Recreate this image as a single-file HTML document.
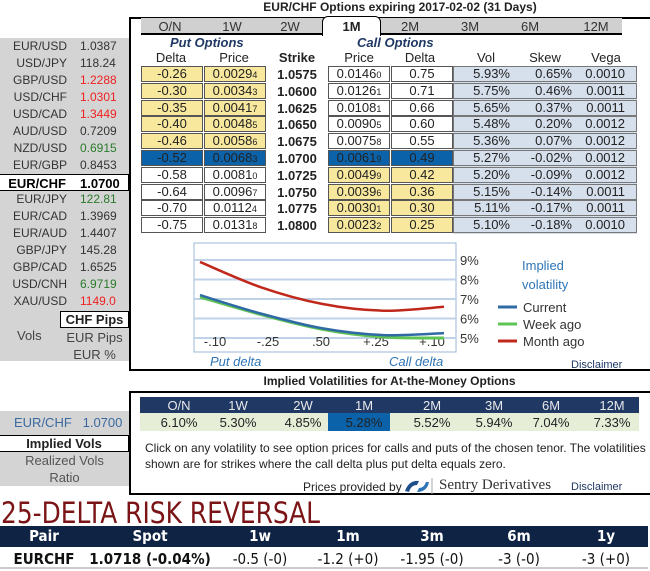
<!DOCTYPE html>
<html><head><meta charset="utf-8">
<style>
*{margin:0;padding:0;box-sizing:border-box}
body{width:650px;height:571px;overflow:hidden;background:#fff;font-family:"Liberation Sans",Arial,sans-serif;font-size:13px;color:#222;position:relative}
.a{position:absolute;white-space:nowrap}
.c{text-align:center}
.cell{position:absolute;height:16px;border:1px solid #555;text-align:center;line-height:14px;font-size:13px}
small{font-size:9px}
.li{position:absolute;left:0;width:129px;height:17px;line-height:17px;font-size:12px;color:#333}
.li .n{position:absolute;right:62px;text-align:right}
.li .v{position:absolute;left:80px}
</style></head><body>
<div class="a c" style="left:150px;width:500px;top:0;font-weight:bold;font-size:12px;line-height:14px">EUR/CHF Options expiring 2017-02-02 (31 Days)</div>

<div class="a" style="left:0;top:38px;width:129px;height:323px;background:#d4d4d4"></div>
<div id="pairs"></div>
<div class="a c" style="left:60px;top:311px;width:69px;height:17px;background:#fff;border:1px solid #000;font-weight:bold;line-height:15px">CHF Pips</div>
<div class="a" style="left:17px;top:327px;color:#444;line-height:17px">Vols</div>
<div class="a c" style="left:60px;top:329px;width:69px;color:#444;line-height:17px">EUR Pips</div>
<div class="a c" style="left:60px;top:346px;width:69px;color:#444;line-height:17px">EUR %</div>

<div class="a" style="left:129px;top:17px;width:522px;height:354px;border:2px solid #000;border-right:none"></div>
<div class="a" style="left:141px;top:18px;width:481px;height:17px;background:#d0d0d0;border-bottom:2px solid #000"></div>
<div class="a c" style="left:322px;top:16px;width:59px;height:20px;background:#fff;border:1.5px solid #000;border-bottom:none;border-radius:6px 6px 0 0;font-weight:bold;line-height:19px;font-size:13px">1M</div>
<div id="tabs"></div>

<div class="a" style="left:170px;top:36px;font-weight:bold;font-style:italic;color:#1f3864;line-height:14px">Put Options</div>
<div class="a" style="left:357px;top:36px;font-weight:bold;font-style:italic;color:#1f3864;line-height:14px">Call Options</div>
<div id="colheads"></div>
<div class="a" style="left:453px;top:66px;width:184px;height:168px;background:#d6dfec"></div>
<div id="rows"></div>

<svg class="a" style="left:0;top:0" width="650" height="380" id="chart"></svg>

<div class="a c" style="left:129px;width:521px;top:374px;font-weight:bold;font-size:12px;line-height:14px">Implied Volatilities for At-the-Money Options</div>
<div class="a" style="left:129px;top:391px;width:522px;height:104px;border:2px solid #000;border-right:none"></div>
<div class="a" style="left:140px;top:397px;width:499px;height:16px;background:#1f3864"></div>
<div class="a" style="left:140px;top:413px;width:499px;height:18px;background:#e6eed8"></div>
<div class="a" style="left:328px;top:413px;width:62px;height:18px;background:#0b62a8"></div>
<div id="atm"></div>
<div class="a" style="left:0;top:411px;width:129px;height:24px;background:#d4d4d4;line-height:24px;color:#3a6aa0;padding-left:14px">EUR/CHF&nbsp;&nbsp;&nbsp;1.0700</div>
<div class="a c" style="left:0;top:435px;width:129px;height:17px;border:1px solid #000;border-left:none;font-weight:bold;line-height:15px">Implied Vols</div>
<div class="a" style="left:0;top:452px;width:129px;height:34px;background:#d4d4d4"></div>
<div class="a c" style="left:0;top:452px;width:129px;line-height:17px;color:#555">Realized Vols</div>
<div class="a c" style="left:0;top:469px;width:129px;line-height:17px;color:#555">Ratio</div>
<div class="a" style="left:145px;top:440px;font-size:12px;line-height:16px">Click on any volatility to see option prices for calls and puts of the chosen tenor. The volatilities<br>shown are for strikes where the call delta plus put delta equals zero.</div>
<div class="a" style="left:303px;top:479px;font-size:12px;line-height:16px">Prices provided by</div>
<svg class="a" style="left:403px;top:477px" width="30" height="18"><path d="M2 14 Q6 3 16 4 L14 8 Q8 8 6 15Z" fill="#1f4f8a"/><path d="M26 5 Q24 15 14 15 L16 11 Q21 11 23 5Z" fill="#2f75b6"/><line x1="29" y1="1" x2="29" y2="17" stroke="#aaa"/></svg>
<div class="a" style="left:439px;top:476px;font-family:'Liberation Serif',serif;font-size:15px;color:#333;line-height:18px">Sentry Derivatives</div>
<div class="a" style="left:571px;top:480px;font-size:11px;color:#1f3864;line-height:14px">Disclaimer</div>

<svg class="a" style="left:0;top:496px" width="330" height="30"><text x="1" y="27" textLength="319" lengthAdjust="spacingAndGlyphs" font-family="DejaVu Sans, sans-serif" font-size="29" fill="#7b1416">25-DELTA RISK REVERSAL</text></svg>
<div class="a" style="left:0;top:526px;width:648px;height:21px;background:#0f2344"></div>
<div class="a" style="left:0;top:547px;width:648px;height:22px;border-bottom:2px solid #ccc"></div>
<div id="rr"></div>

<script>
const deltaLabels = ["-.10","-.25",".50","+.25","+.10"];
const volTicks = [5,6,7,8,9];
const currentVols = [7.2,6.25,5.5,5.15,5.25];
const weekAgoVols = [7.1,6.2,5.45,5.05,5.0];
const monthAgoVols = [8.9,7.6,6.75,6.4,6.6];

const putDeltas = ["-0.26","-0.30","-0.35","-0.40","-0.46","-0.52","-0.58","-0.64","-0.70","-0.75"];
const putPrices = [["0.0029","4"],["0.0034","3"],["0.0041","7"],["0.0048","5"],["0.0058","6"],["0.0068","3"],["0.0081","0"],["0.0096","7"],["0.0112","4"],["0.0131","8"]];
const strikes = ["1.0575","1.0600","1.0625","1.0650","1.0675","1.0700","1.0725","1.0750","1.0775","1.0800"];
const callPrices = [["0.0146","0"],["0.0126","1"],["0.0108","1"],["0.0090","5"],["0.0075","8"],["0.0061","9"],["0.0049","9"],["0.0039","6"],["0.0030","1"],["0.0023","2"]];
const callDeltas = ["0.75","0.71","0.66","0.60","0.55","0.49","0.42","0.36","0.30","0.25"];
const vols = ["5.93%","5.75%","5.65%","5.48%","5.36%","5.27%","5.20%","5.15%","5.11%","5.10%"];
const skews = ["0.65%","0.46%","0.37%","0.20%","0.07%","-0.02%","-0.09%","-0.14%","-0.17%","-0.18%"];
const vegas = ["0.0010","0.0011","0.0011","0.0012","0.0012","0.0012","0.0012","0.0011","0.0011","0.0010"];
const pairNames = ["EUR/USD","USD/JPY","GBP/USD","USD/CHF","USD/CAD","AUD/USD","NZD/USD","EUR/GBP","EUR/CHF","EUR/JPY","EUR/CAD","EUR/AUD","GBP/JPY","GBP/CAD","USD/CNH","XAU/USD"];
const pairVals = ["1.0387","118.24","1.2288","1.0301","1.3449","0.7209","0.6915","0.8453","1.0700","122.81","1.3969","1.4407","145.28","1.6525","6.9719","1149.0"];
const pairColors = ["#333","#333","#f02020","#f02020","#f02020","#333","#2a7a2a","#333","#000","#2a7a2a","#333","#333","#333","#333","#2a7a2a","#f02020"];
const tenors = ["O/N","1W","2W","1M","2M","3M","6M","12M"];
const atmVols = ["6.10%","5.30%","4.85%","5.28%","5.52%","5.94%","7.04%","7.33%"];
const rrHeads = ["Pair","Spot","1w","1m","3m","6m","1y"];
const rrVals = ["EURCHF","1.0718 (-0.04%)","-0.5 (-0)","-1.2 (+0)","-1.95 (-0)","-3 (-0)","-3 (+0)"];

function mk(parent, cls, css, html){const d=document.createElement('div');d.className=cls;d.style.cssText=css;d.innerHTML=html;parent.appendChild(d);return d;}

const P=document.getElementById('pairs');
pairNames.forEach((n,i)=>{
  const y=38+i*17;
  const sel=n==="EUR/CHF";
  const d=mk(P,'li',`top:${y}px;${sel?'background:#fff;border:1px solid #000;border-left:none;font-weight:bold;color:#000;font-size:13px;':''}`,`<span class="n">${n}</span><span class="v" style="color:${pairColors[i]}">${pairVals[i]}</span>`);
  
  
});

const T=document.getElementById('tabs');
const tabX=[170,232,290,352,410,470,530,596];
tenors.forEach((t,i)=>{
  if(t==="1M")return;
  const d=mk(T,'a c',`left:${tabX[i]-25}px;width:50px;top:19px;line-height:15px;color:#333`,t);
  
  
});

const H=document.getElementById('colheads');
[["Delta",171],["Price",234],["Strike",297],["Price",359],["Delta",420],["Vol",486],["Skew",545],["Vega",606]].forEach(([t,x])=>{
  const d=mk(H,'a c',`left:${x-30}px;width:60px;top:51px;line-height:14px;${t==="Strike"?'font-weight:bold;':''}`,t);
  
  
});

const R=document.getElementById('rows');
const YEL="#f8e89e",BLU="#0b62a8";
strikes.forEach((s,i)=>{
  const y=(66+i*16.8).toFixed(1);
  const putBg=i<5?YEL:(i===5?BLU:"#fff");
  const callBg=i<5?"#fff":(i===5?BLU:YEL);
  let d;
  d=mk(R,'cell',`left:141px;top:${y}px;width:62px;background:${putBg}`,putDeltas[i]);
  
  
  d=mk(R,'cell',`left:204px;top:${y}px;width:62px;background:${putBg}`,putPrices[i][0]+'<small>'+putPrices[i][1]+'</small>');
  
  
  d=mk(R,'a c',`left:267px;width:60px;top:${+y+1}px;font-weight:bold;line-height:15px`,s);
  
  
  d=mk(R,'cell',`left:328px;top:${y}px;width:62px;background:${callBg}`,callPrices[i][0]+'<small>'+callPrices[i][1]+'</small>');
  
  
  d=mk(R,'cell',`left:391px;top:${y}px;width:62px;background:${callBg}`,callDeltas[i]);
  
  
  d=mk(R,'cell',`left:453px;top:${y}px;width:184px;background:#d6dfec;border-color:#777;text-align:left`,`<span style="position:absolute;right:126px">${vols[i]}</span><span style="position:absolute;right:64px">${skews[i]}</span><span style="position:absolute;right:11px">${vegas[i]}</span>`);
  
  
});

const NS="http://www.w3.org/2000/svg";
const svg=document.getElementById('chart');
function el(tag,attrs,txt){const e=document.createElementNS(NS,tag);for(const k in attrs)e.setAttribute(k,attrs[k]);if(txt!==undefined)e.textContent=txt;svg.appendChild(e);return e;}
const PL=194,PR=456,PT=243,PB=352;
const yS=v=>338-(v-5)*19.5;
const xS=i=>200+i*61;
let e=el('rect',{x:PL,y:PT,width:PR-PL,height:PB-PT,fill:'#fff',stroke:'#9bb7d6','stroke-width':1});


volTicks.forEach(v=>{
  let g=el('line',{x1:PL,x2:PR,y1:yS(v),y2:yS(v),stroke:'#c0d2e8','stroke-width':2});
  
  
  let t=el('text',{x:460,y:yS(v)+5,'font-size':13,fill:'#333','font-family':'Liberation Sans, sans-serif'},v+'%');
  
  
});
const labX=[215,268,321,376,432];
deltaLabels.forEach((l,i)=>{
  let t=el('text',{x:labX[i],y:346,'font-size':13,fill:'#333','text-anchor':'middle','font-family':'Liberation Sans, sans-serif'},l);
  
  
});
function smooth(vals){
  const p=vals.map((v,i)=>[xS(i),yS(v)]);
  let d=`M${p[0][0]},${p[0][1]}`;
  for(let i=0;i<p.length-1;i++){
    const p0=p[Math.max(0,i-1)],p1=p[i],p2=p[i+1],p3=p[Math.min(p.length-1,i+2)];
    const c1=[p1[0]+(p2[0]-p0[0])/6,p1[1]+(p2[1]-p0[1])/6];
    const c2=[p2[0]-(p3[0]-p1[0])/6,p2[1]-(p3[1]-p1[1])/6];
    d+=` C${c1[0]},${c1[1]} ${c2[0]},${c2[1]} ${p2[0]},${p2[1]}`;
  }
  return d;
}
let s1=el('path',{d:smooth(monthAgoVols),fill:'none',stroke:'#c0281b','stroke-width':2.5});


let s2=el('path',{d:smooth(weekAgoVols),fill:'none',stroke:'#5fc454','stroke-width':3});


let s3=el('path',{d:smooth(currentVols),fill:'none',stroke:'#2f6aa5','stroke-width':2.5});


[["Implied",522,270],["volatility",522,289]].forEach(([t,x,y])=>{
  let tt=el('text',{x,y,'font-size':13,fill:'#2e75b6','font-family':'Liberation Sans, sans-serif'},t);
  
  
});
[["Current","#2f6aa5",307],["Week ago","#5fc454",324],["Month ago","#c0281b",341]].forEach(([t,c,y])=>{
  let l=el('line',{x1:498,x2:517,y1:y,y2:y,stroke:c,'stroke-width':3});
  
  
  let tt=el('text',{x:523,y:y+5,'font-size':13,fill:'#333','font-family':'Liberation Sans, sans-serif'},t);
  
  
});
[["Put delta",210],["Call delta",389]].forEach(([t,x])=>{
  let tt=el('text',{x,y:366,'font-size':13,fill:'#2e75b6','font-style':'italic','font-family':'Liberation Sans, sans-serif'},t);
  
  
});
let dc=el('text',{x:571,y:368,'font-size':11,fill:'#1f3864','font-family':'Liberation Sans, sans-serif'},'Disclaimer');



const A=document.getElementById('atm');
const atmX=[179,238,303,364,432,494,551,612];
tenors.forEach((t,i)=>{
  let d=mk(A,'a c',`left:${atmX[i]-30}px;width:60px;top:398px;line-height:15px;color:#e8e8e8`,t);
  
  
  d=mk(A,'a c',`left:${atmX[i]-30}px;width:60px;top:415px;line-height:15px;color:#222`,atmVols[i]);
  
  
});

const Q=document.getElementById('rr');
const rrX=[44,150,260,348,432,519,606];
rrHeads.forEach((h,i)=>{
  let d=mk(Q,'a c',`left:${rrX[i]-70}px;width:140px;top:527px;line-height:19px;color:#fff;font-weight:bold;font-size:15px;font-family:'DejaVu Sans Condensed','DejaVu Sans',sans-serif`,h);
  
  
  d=mk(Q,'a c',`left:${rrX[i]-70}px;width:140px;top:549px;line-height:20px;color:#111;font-size:15px;${i<2?'font-weight:bold;':''}font-family:'DejaVu Sans Condensed','DejaVu Sans',sans-serif`,rrVals[i]);
  
  
});
</script>
</body></html>
